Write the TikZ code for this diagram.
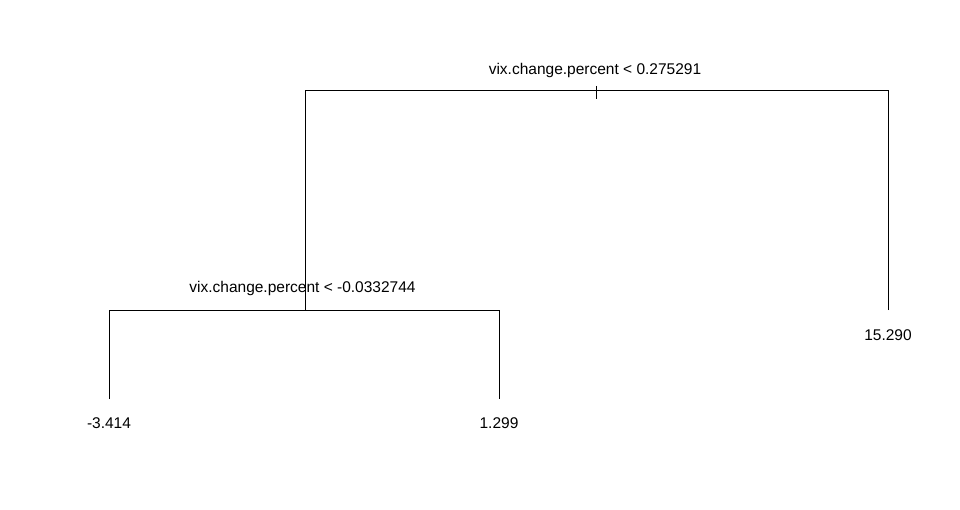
\documentclass[tikz,border=0pt]{standalone}
\usepackage{fontspec}
\setmainfont{Liberation Sans}
\begin{document}
\begin{tikzpicture}[x=1pt,y=-1pt,
  edge/.style={draw=black,line width=1pt},
  lbl/.style={inner sep=0pt,anchor=base,font=\fontsize{15.5}{18}\selectfont,text=black}]
\useasboundingbox[fill=white] (0,0) rectangle (960,510);
% split and leaf points
\coordinate (r) at (596.5,91);
\coordinate (rt) at (596.5,86);
\coordinate (rb) at (596.5,99);
\coordinate (rl) at (305,91);
\coordinate (rr) at (888,91);
\coordinate (s) at (304,310);
\coordinate (sl) at (109,310);
\coordinate (sr) at (499,310);
\coordinate (lf1) at (109,399);
\coordinate (lf2) at (499,399);
\coordinate (lf3) at (888,310);
% tree
\draw[edge] (rt) -- (rb);
\draw[edge] (lf3) -- (rr) -- (rl) -- (305,310);
\draw[edge] (lf1) -- (sl) -- (sr) -- (lf2);
% labels
\node[lbl] (t1) at (595,74.5) {vix.change.percent < 0.275291};
\node[lbl] (t2) at (302.5,292.5) {vix.change.percent < -0.0332744};
\node[lbl] (v1) at (109,428.5) {-3.414};
\node[lbl] (v2) at (499,428.5) {1.299};
\node[lbl] (v3) at (888,340.5) {15.290};
\end{tikzpicture}
\end{document}
